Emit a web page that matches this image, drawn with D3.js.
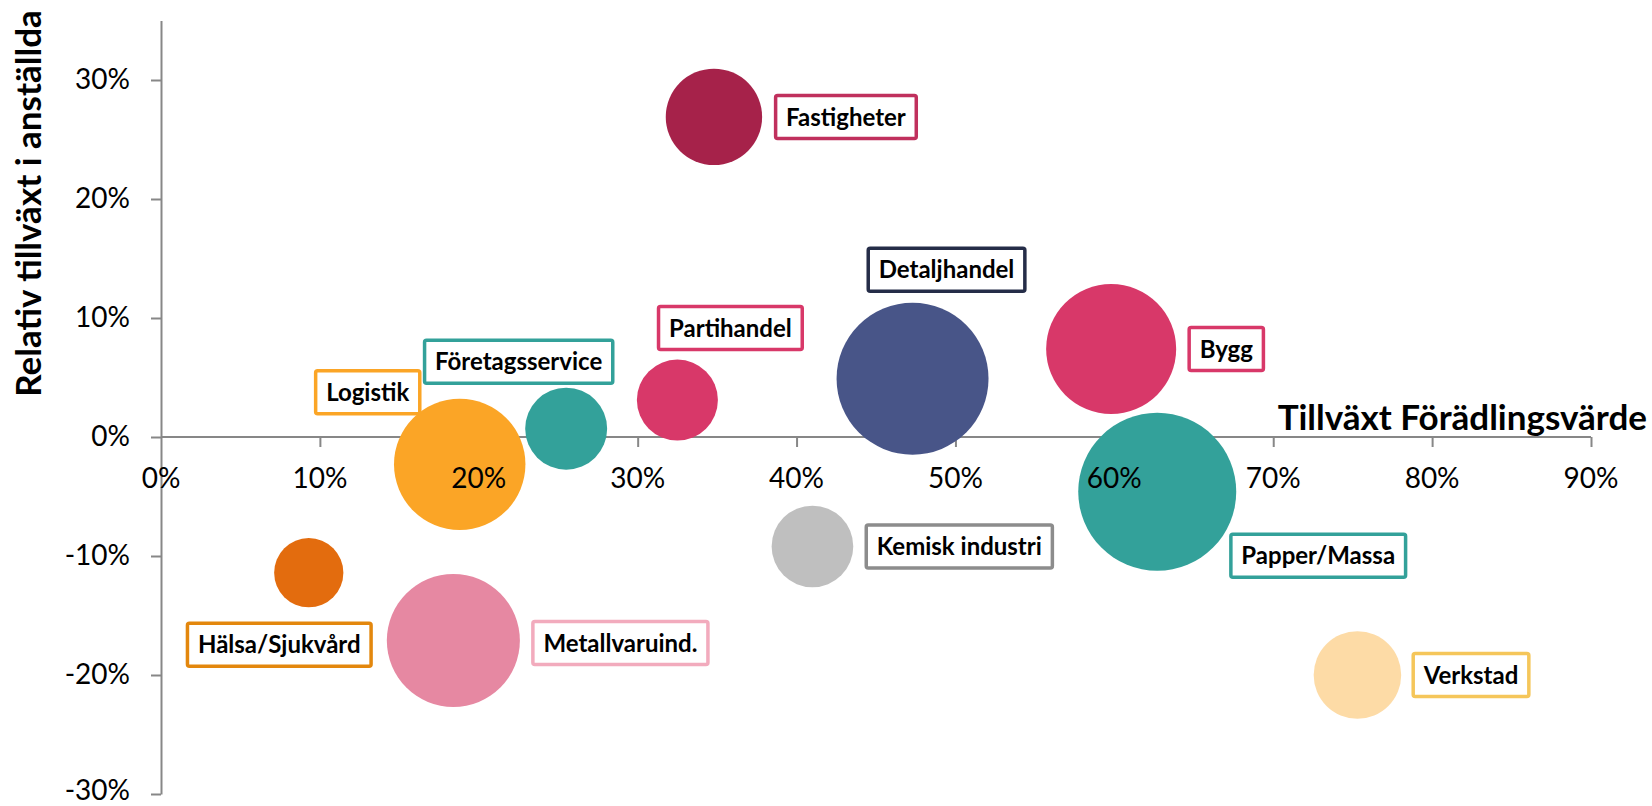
<!DOCTYPE html>
<html>
<head>
<meta charset="utf-8">
<script src="https://cdnjs.cloudflare.com/ajax/libs/d3/7.8.5/d3.min.js"></script>
<style>
  html, body { margin: 0; padding: 0; background: #fff; }
  svg { display: block; }
  text { font-family: Lato, "Open Sans", sans-serif; }
</style>
</head>
<body>
<svg id="chart" width="1652" height="806"></svg>
<script>
// ---------- data ----------
const categories = ["Fastigheter", "Detaljhandel", "Partihandel", "Företagsservice", "Logistik",
  "Bygg", "Papper/Massa", "Kemisk industri", "Verkstad", "Hälsa/Sjukvård", "Metallvaruind."];
// Tillväxt Förädlingsvärde (x)
const valueGrowth = [0.348, 0.473, 0.325, 0.255, 0.188, 0.598, 0.627, 0.410, 0.753, 0.093, 0.184];
// Relativ tillväxt i anställda (y)
const employeeGrowth = [0.269, 0.049, 0.031, 0.007, -0.023, 0.074, -0.046, -0.092, -0.200, -0.114, -0.171];
// bubble size (relative)
const bubbleSize = [37.2, 92.5, 26.3, 26.9, 69.2, 67.7, 100, 26.7, 30.7, 19.2, 70.9];

const xTickValues = [0, 0.1, 0.2, 0.3, 0.4, 0.5, 0.6, 0.7, 0.8, 0.9];
const yTickValues = [-0.3, -0.2, -0.1, 0, 0.1, 0.2, 0.3];
const xTitle = "Tillväxt Förädlingsvärde";
const yTitle = "Relativ tillväxt i anställda";

// ---------- styles ----------
const fillColors = ["#A6224A", "#485588", "#D83869", "#33A19A", "#FBA526",
  "#D83869", "#33A19A", "#BFBFBF", "#FDDBA6", "#E36C0E", "#E688A2"];
const borderColors = ["#C0305D", "#252D48", "#D83869", "#33A19A", "#FBA526",
  "#D83869", "#33A19A", "#8C8C8C", "#F5C65A", "#E3870D", "#F2ABBD"];
// label layout: "side" = box starts gap px right of bubble edge; "free" = box centre offset from bubble centre
const labelLayout = [
  {mode: "side", dx: 13.5, dy: 0},
  {mode: "free", dx: 34, dy: -109},
  {mode: "free", dx: 53, dy: -72},
  {mode: "free", dx: -47.5, dy: -67},
  {mode: "free", dx: -92, dy: -72},
  {mode: "side", dx: 13, dy: 0},
  {mode: "free", dx: 161, dy: 64},
  {mode: "side", dx: 13, dy: 0},
  {mode: "side", dx: 12, dy: 0},
  {mode: "free", dx: -29.5, dy: 72},
  {mode: "side", dx: 13, dy: 2.5}
];

// ---------- chart ----------
const W = 806;
const svg = d3.select("#chart");
const x = d3.scaleLinear().domain([0, 0.9]).range([161, 1591]);
const y = d3.scaleLinear().domain([-0.3, 0.35]).range([794, 20.5]);
const r = d3.scaleSqrt().domain([0, 100]).range([0, 79]);
const pctBase = d3.format(".0%");
const pct = v => pctBase(v).replace("\u2212", "-");
const axisColor = "#878787";

const data = categories.map((c, i) => ({
  name: c, x: valueGrowth[i], y: employeeGrowth[i], s: bubbleSize[i],
  fill: fillColors[i], border: borderColors[i], layout: labelLayout[i]
}));

// axes (lines)
const xAxis = d3.axisBottom(x).tickValues(xTickValues.slice(1)).tickFormat(pct)
  .tickSizeInner(10).tickSizeOuter(0).tickPadding(21);
const yAxis = d3.axisLeft(y).tickValues(yTickValues).tickFormat(pct)
  .tickSizeInner(10).tickSizeOuter(0).tickPadding(21);

const gx = svg.append("g").attr("transform", `translate(0,${y(0)})`).call(xAxis);
const gy = svg.append("g").attr("transform", `translate(${x(0)},0)`).call(yAxis);
gx.select(".domain").attr("d", `M${x(0)},0H${x(0.9)}`);
[gx, gy].forEach(g => {
  g.selectAll(".domain, .tick line").attr("stroke", axisColor).attr("stroke-width", 2);
  g.selectAll("text").remove();
});

// bubbles
svg.append("g").selectAll("circle").data(data).join("circle")
  .attr("cx", d => x(d.x)).attr("cy", d => y(d.y)).attr("r", d => r(d.s))
  .attr("fill", d => d.fill);

// tick labels on top of bubbles
const labelFont = 28;
svg.append("g").selectAll("text").data(xTickValues).join("text")
  .attr("x", d => x(d)).attr("y", y(0) + 31).attr("dy", "0.72em")
  .attr("text-anchor", "middle").attr("font-size", labelFont).attr("fill", "#000")
  .text(pct);
svg.append("g").selectAll("text").data(yTickValues).join("text")
  .attr("x", x(0) - 31)
  .attr("y", d => Math.min(y(d) + 0.33 * labelFont, W - 0.22 * labelFont))
  .attr("text-anchor", "end").attr("font-size", labelFont).attr("fill", "#000")
  .text(pct);

// axis titles
svg.append("text").attr("x", 1647).attr("y", 430).attr("text-anchor", "end")
  .attr("font-size", 35).attr("font-weight", 700).attr("fill", "#000").text(xTitle);
svg.append("text").attr("transform", "translate(41,203.5) rotate(-90)")
  .attr("text-anchor", "middle").attr("font-size", 35).attr("font-weight", 700)
  .attr("fill", "#000").text(yTitle);

// data labels
const lg = svg.append("g");
data.forEach(d => {
  const g = lg.append("g");
  const rect = g.append("rect");
  const t = g.append("text").attr("font-size", 24).attr("font-weight", 700)
    .attr("fill", "#000").attr("text-anchor", "middle").attr("dy", "0.36em").text(d.name);
  const w = t.node().getComputedTextLength() + 21;
  const h = 43;
  const cx = x(d.x), cy = y(d.y), rr = r(d.s);
  let bx;
  if (d.layout.mode === "side") {
    bx = cx + rr + d.layout.dx + w / 2;
  } else {
    bx = cx + d.layout.dx;
  }
  const by = cy + d.layout.dy;
  rect.attr("x", bx - w / 2).attr("y", by - h / 2).attr("width", w).attr("height", h)
    .attr("rx", 2).attr("fill", "#fff").attr("stroke", d.border).attr("stroke-width", 3.5);
  t.attr("x", bx).attr("y", by);
});
</script>
</body>
</html>
